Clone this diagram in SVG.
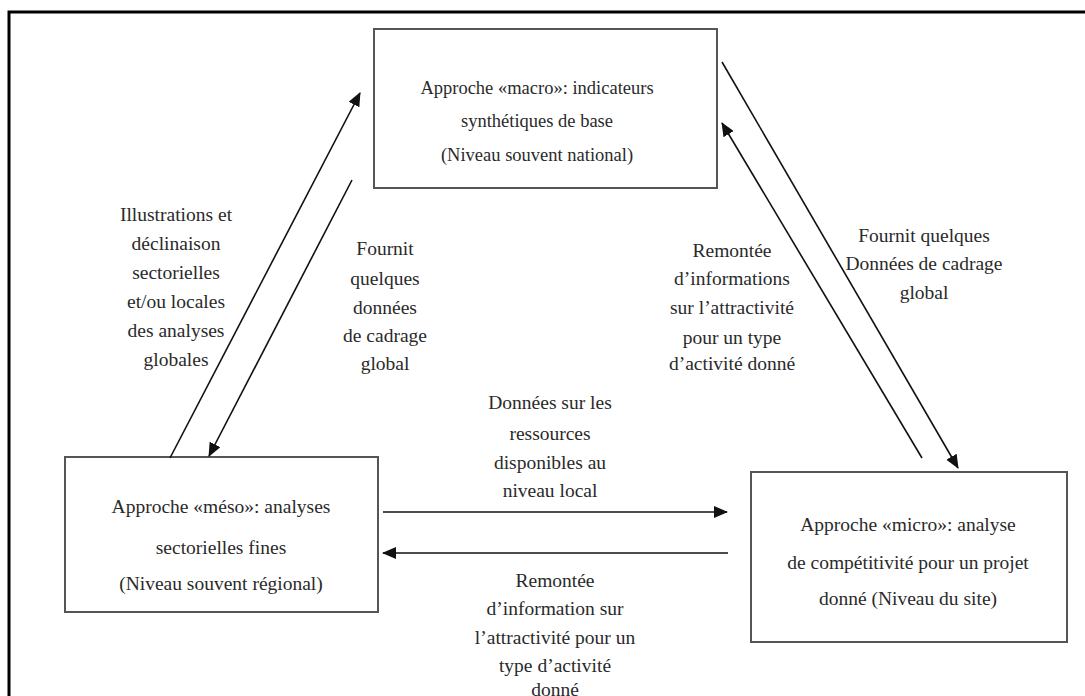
<svg xmlns="http://www.w3.org/2000/svg" width="1085" height="696" viewBox="0 0 1085 696">
<defs>
<marker id="ah" markerWidth="14" markerHeight="12" refX="13" refY="6" orient="auto" markerUnits="userSpaceOnUse">
<path d="M0,0 L14,6 L0,12 z" fill="#111"/>
</marker>
<style>
.box{fill:#fff;stroke:#555;stroke-width:2}
.t{font-family:"Liberation Serif","Times New Roman",serif;font-size:19.5px;fill:#2a2a2a;text-anchor:middle}
.tm{font-size:18.5px}
.c{stroke:#111;stroke-width:1.6;fill:none;marker-end:url(#ah)}
</style>
</defs>
<rect x="0" y="0" width="1085" height="696" fill="#fff"/>
<path d="M9,696 L9,12 L1085,12" fill="none" stroke="#000" stroke-width="3"/>

<g id="macro">
<rect class="box" x="374" y="29" width="343" height="159"/>
<text class="t tm" x="537" y="94">Approche «macro»: indicateurs</text>
<text class="t tm" x="537" y="127">synthétiques de base</text>
<text class="t tm" x="537" y="161">(Niveau souvent national)</text>
</g>

<g id="meso">
<rect class="box" x="65" y="457" width="313" height="155"/>
<text class="t" x="221" y="513">Approche «méso»: analyses</text>
<text class="t" x="221" y="554">sectorielles fines</text>
<text class="t" x="221" y="590">(Niveau souvent régional)</text>
</g>

<g id="micro">
<rect class="box" x="751" y="472" width="316" height="170"/>
<text class="t" x="908" y="531">Approche «micro»: analyse</text>
<text class="t" x="908" y="569">de compétitivité pour un projet</text>
<text class="t" x="908" y="605">donné (Niveau du site)</text>
</g>

<g id="connectors">
<line class="c" x1="170" y1="458" x2="360" y2="93"/>
<line class="c" x1="352" y1="180" x2="209" y2="456"/>
<line class="c" x1="722" y1="62" x2="958" y2="468"/>
<line class="c" x1="922" y1="458" x2="722" y2="123"/>
<line class="c" x1="383" y1="512" x2="727" y2="512"/>
<line class="c" x1="728" y1="553" x2="383" y2="553"/>
</g>

<g id="labels">
<text class="t" x="176"><tspan x="176" y="221">Illustrations et</tspan><tspan x="176" y="250">déclinaison</tspan><tspan x="176" y="279">sectorielles</tspan><tspan x="176" y="308">et/ou locales</tspan><tspan x="176" y="337">des analyses</tspan><tspan x="176" y="366">globales</tspan></text>
<text class="t" x="385"><tspan x="385" y="255">Fournit</tspan><tspan x="385" y="285">quelques</tspan><tspan x="385" y="314">données</tspan><tspan x="385" y="342">de cadrage</tspan><tspan x="385" y="370">global</tspan></text>
<text class="t" x="732"><tspan x="732" y="257">Remontée</tspan><tspan x="732" y="285">d’informations</tspan><tspan x="732" y="314">sur l’attractivité</tspan><tspan x="732" y="344">pour un type</tspan><tspan x="732" y="370">d’activité donné</tspan></text>
<text class="t" x="924"><tspan x="924" y="242">Fournit quelques</tspan><tspan x="924" y="270">Données de cadrage</tspan><tspan x="924" y="299">global</tspan></text>
<text class="t" x="550"><tspan x="550" y="409">Données sur les</tspan><tspan x="550" y="440">ressources</tspan><tspan x="550" y="469">disponibles au</tspan><tspan x="550" y="497">niveau local</tspan></text>
<text class="t" x="555"><tspan x="555" y="587">Remontée</tspan><tspan x="555" y="615">d’information sur</tspan><tspan x="555" y="644">l’attractivité pour un</tspan><tspan x="555" y="672">type d’activité</tspan><tspan x="555" y="696">donné</tspan></text>
</g>
</svg>
